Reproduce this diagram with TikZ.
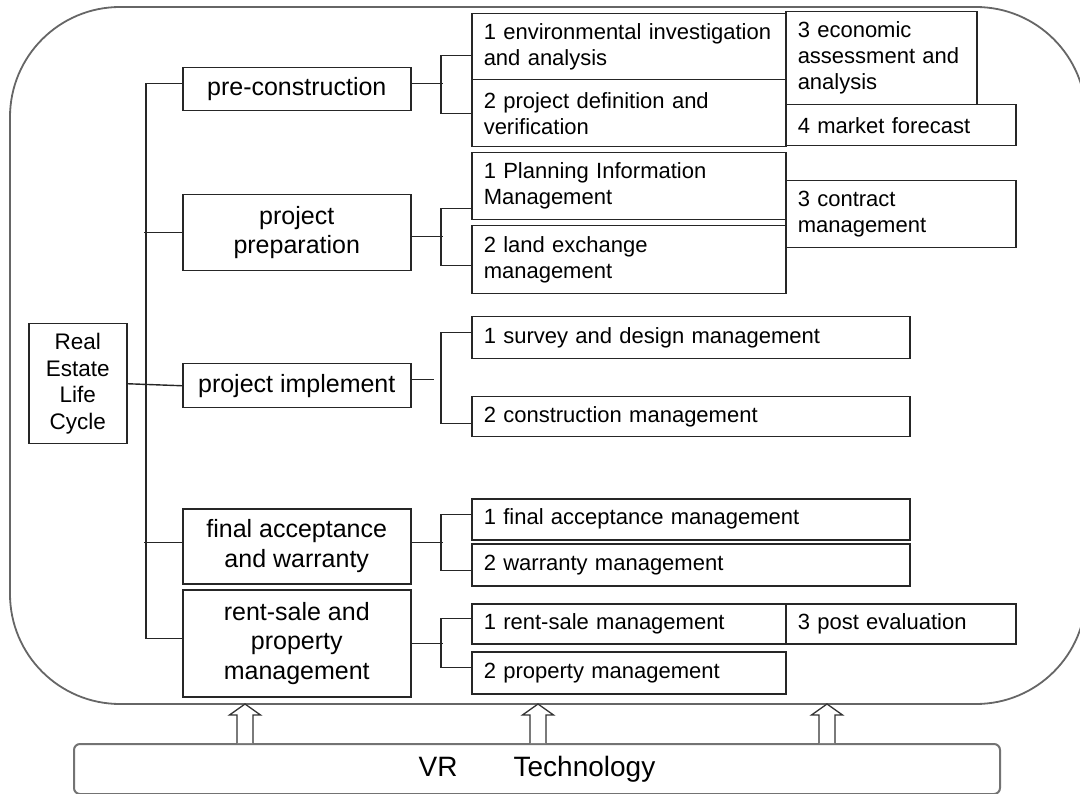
\documentclass[tikz,border=0pt]{standalone}
\usepackage{fontspec}
\setmainfont{Liberation Sans}
\begin{document}
\begin{tikzpicture}[x=1pt, y=-1pt,
    phase/.style={draw=black!85, line width=1.5pt, anchor=north west, minimum width=228pt, inner sep=0pt, align=center, font=\fontsize{25}{29.5}\selectfont},
    task/.style={draw=black!85, line width=1.5pt, anchor=north west, inner xsep=12pt, inner ysep=0pt, align=left, text width=#1, font=\fontsize{22}{26}\selectfont},
    task/.default=290pt,
    link/.style={black!85, line width=1.4pt},
    blk/.style={draw=black!80, line width=1.3pt, fill=white}]
  \useasboundingbox (0,0) rectangle (1080,794);
  \begin{scope}
    \clip (0,0) rectangle (1080,794);
    \draw[black!60, line width=1.8pt, rounded corners=110pt] (10,7) rectangle (1086,704);
  \end{scope}
  % phases
  \node[draw=black!85, line width=1.5pt, anchor=north west, minimum width=98pt, minimum height=120pt, inner sep=0pt, align=center, font=\fontsize{22.5}{26.5}\selectfont] (root) at (28,323) {Real\\Estate\\Life\\Cycle};
  \node[phase, minimum height=43pt] (pre) at (182,67) {pre-construction};
  \node[phase, minimum height=76pt] (prep) at (182,194) {project\\preparation};
  \node[phase, minimum height=44pt] (impl) at (182,363) {project implement};
  \node[phase, minimum height=75pt] (fin) at (182,508) {final acceptance\\and warranty};
  \node[phase, minimum height=107pt] (rent) at (182,589) {rent-sale and\\property\\management};
  % tasks
  \node[task, minimum height=66pt] (env) at (471,13) {1 environmental investigation\\and analysis};
  \node[task, minimum height=67pt] (def) at (471,79) {2 project definition and\\verification};
  \node[task=167pt, minimum height=93pt] (econ) at (785,11) {3 economic\\assessment and\\analysis};
  \node[task=206pt, minimum height=41pt] (mkt) at (785,104) {4 market forecast};
  \node[task, minimum height=67pt] (plan) at (471,152) {1 Planning Information\\Management};
  \node[task, minimum height=68pt] (land) at (471,225) {2 land exchange\\management};
  \node[task=206pt, minimum height=67pt] (contr) at (785,180) {3 contract\\management};
  \node[task=414pt, minimum height=42pt] (survey) at (471,316) {1 survey and design management};
  \node[task=414pt, minimum height=40pt] (constr) at (471,396) {2 construction management};
  \node[task=414pt, minimum height=41pt] (facc) at (471,498) {1 final acceptance management};
  \node[task=414pt, minimum height=42pt] (warr) at (471,543) {2 warranty management};
  \node[task, minimum height=40pt] (rsale) at (471,603) {1 rent-sale management};
  \node[task=206pt, minimum height=40pt] (post) at (785,603) {3 post evaluation};
  \node[task, minimum height=42pt] (prop) at (471,651) {2 property management};
  % trunk
  \draw[link] ([yshift=5.5pt]pre.west) -- ++(-36,0) |- ([yshift=4.5pt]rent.west);
  \draw[link] (prep.west) -- ++(-38,0);
  \draw[link] ([yshift=3.5pt]fin.west) -- ++(-38,0);
  \draw[link] (root.east) -- (impl.west);
  % brackets
  \draw[link] ([yshift=5.5pt]pre.east) -- ++(31,0);
  \draw[link] ([yshift=-9pt]env.west) -- ++(-30,0) |- (def.west);
  \draw[link] ([yshift=-4pt]prep.east) -- ++(31,0);
  \draw[link] ([yshift=-22pt]plan.west) -- ++(-30,0) |- ([yshift=-6pt]land.west);
  \draw[link] ([yshift=6pt]impl.east) -- ++(22,0);
  \draw[link] ([yshift=5pt]survey.west) -- ++(-30,0) |- ([yshift=-7pt]constr.west);
  \draw[link] ([yshift=3.5pt]fin.east) -- ++(31,0);
  \draw[link] ([yshift=4.5pt]facc.west) -- ++(-30,0) |- ([yshift=-5.5pt]warr.west);
  \draw[link] (rent.east) -- ++(31,0);
  \draw[link] ([yshift=5pt]rsale.west) -- ++(-30,0) |- ([yshift=5pt]prop.west);
  % VR base
  \node[draw=black!55, line width=2pt, rounded corners=6pt, anchor=north west, minimum width=926pt, minimum height=50pt, font=\fontsize{28}{32}\selectfont] (vr) at (73,743) {VR\hspace{56pt}Technology};
  \foreach \x in {245,538,827}
    \draw[blk] (\x-8,743) -- (\x-8,715) -- (\x-15.5,715) -- (\x,704) -- (\x+15.5,715) -- (\x+8,715) -- (\x+8,743);% Arrow
\end{tikzpicture}
\end{document}
